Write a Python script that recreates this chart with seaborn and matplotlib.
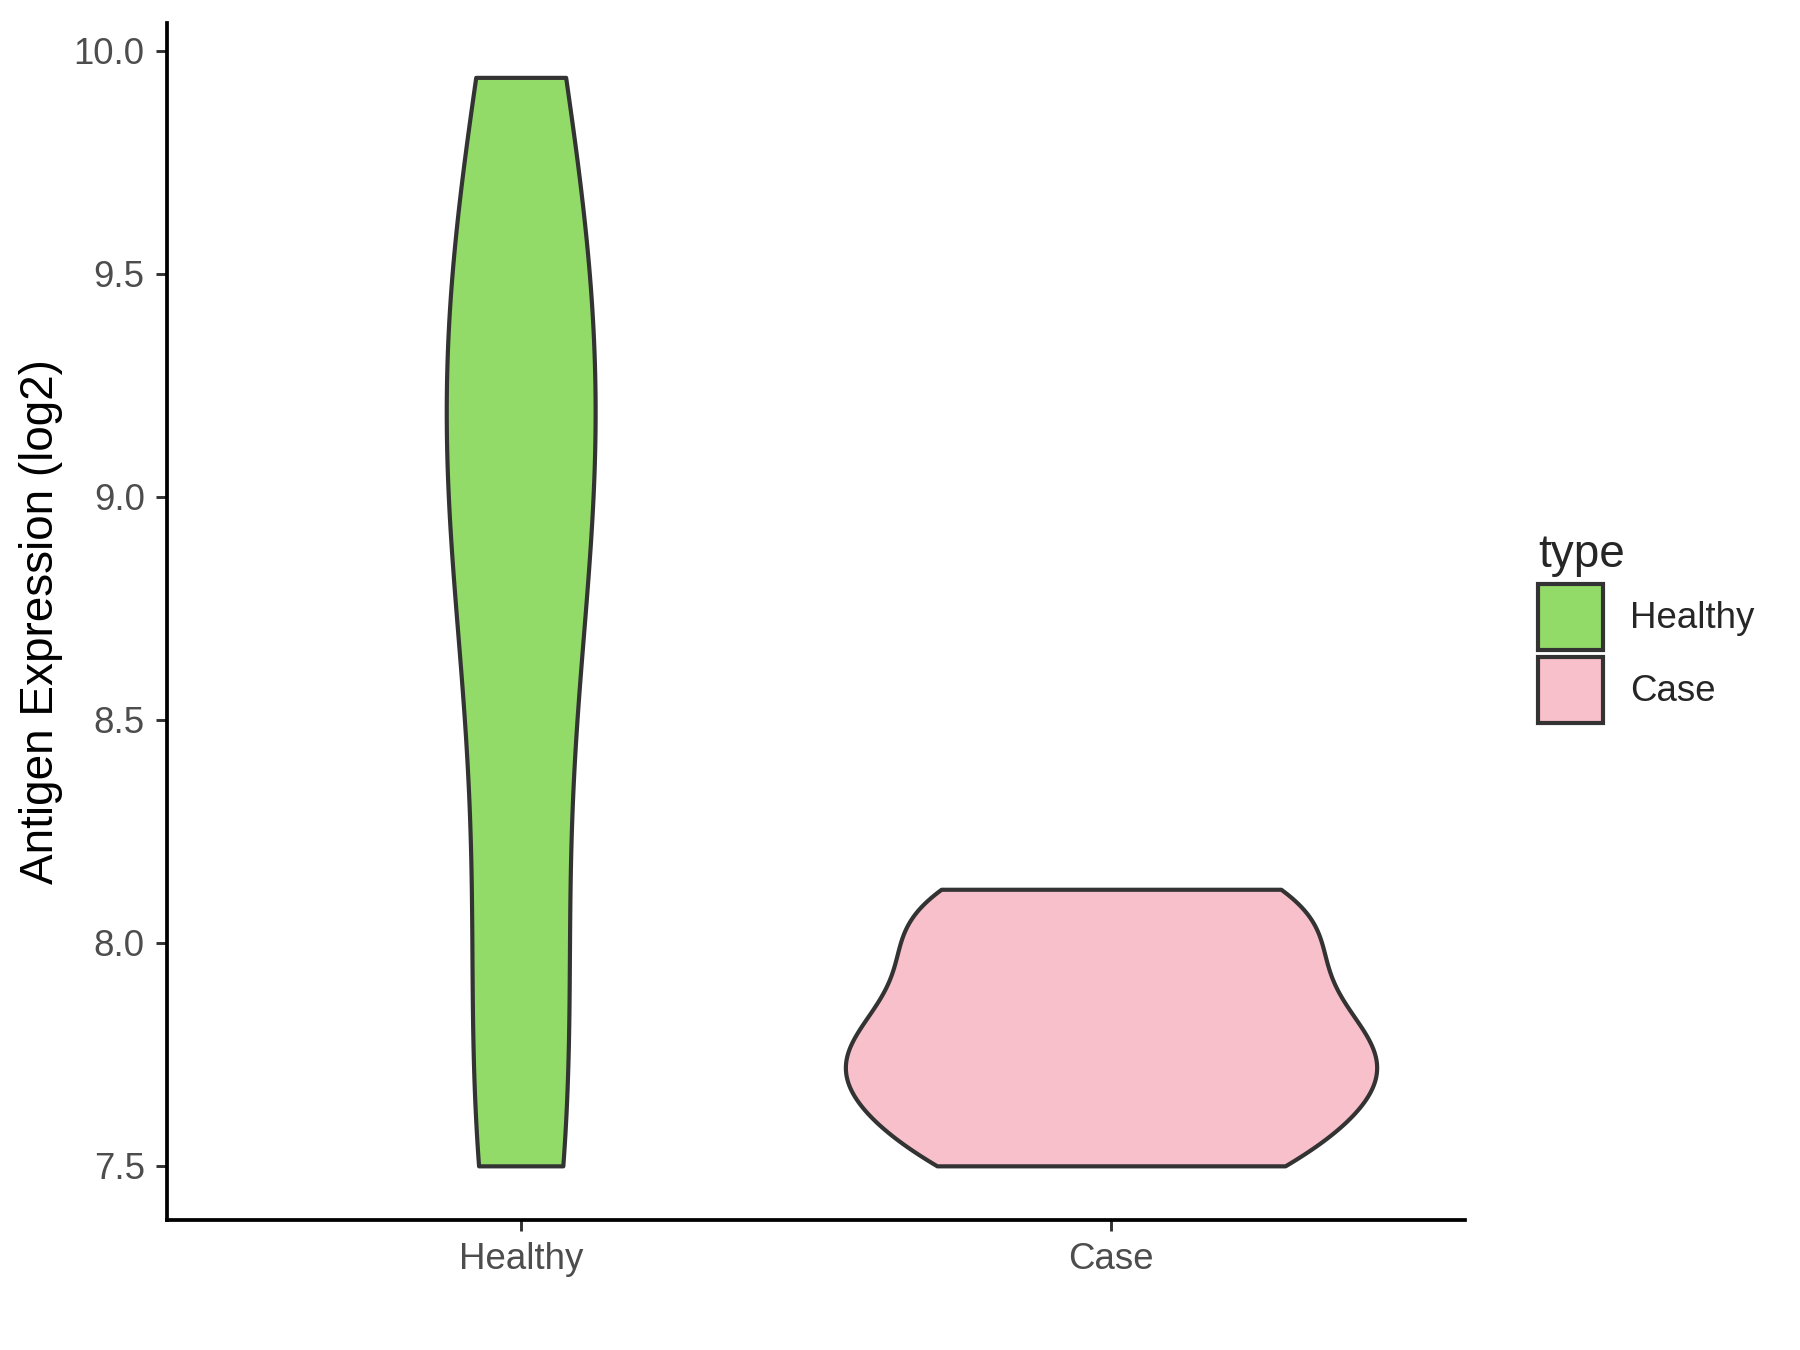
import pandas as pd
import seaborn as sns
import matplotlib.pyplot as plt
from matplotlib.patches import Patch

# values
healthy = [7.5, 7.55, 7.95, 8.5, 8.8, 9.1, 9.2, 9.35, 9.7, 9.94]
case = [7.5, 7.52, 7.64, 7.71, 7.75, 7.79, 7.91, 8.0, 8.1, 8.12]
groups = ["Healthy", "Case"]
colors = ["#93DB69", "#F8C0CB"]

df = pd.DataFrame({
    "type": ["Healthy"] * len(healthy) + ["Case"] * len(case),
    "value": healthy + case,
})

sns.set_theme(style="ticks")
plt.rcParams['font.family'] = ['Liberation Sans', 'DejaVu Sans']

fig = plt.figure(figsize=(6, 4.5), dpi=300)
ax = fig.add_axes([0.0925, 0.0961, 0.814 - 0.0925, 0.983 - 0.0961])

sns.violinplot(data=df, x="type", y="value", hue="type", order=groups, hue_order=groups,
               palette=colors, cut=0, inner=None, width=0.9, density_norm="area",
               common_norm=True, bw_adjust=0.9,
               linewidth=1.0, linecolor="#333333", saturation=1, legend=False, ax=ax)

ax.set_xlim(-0.6, 1.6)
ax.set_ylim(7.378, 10.062)
ax.set_yticks([7.5, 8.0, 8.5, 9.0, 9.5, 10.0])
ax.set_yticklabels(["7.5", "8.0", "8.5", "9.0", "9.5", "10.0"])
ax.set_xlabel("")
ax.set_ylabel("Antigen Expression (log2)", fontsize=11, color="black", labelpad=2.5)

for s in ["top", "right"]:
    ax.spines[s].set_visible(False)
for s in ["left", "bottom"]:
    ax.spines[s].set_linewidth(0.9)
    ax.spines[s].set_color("black")
ax.tick_params(axis="both", labelsize=8.8, labelcolor="#4D4D4D", color="#333333",
               length=2.75, width=0.7, pad=2.5)

handles = [Patch(facecolor=c, edgecolor="#333333", linewidth=1.0, label=g) for g, c in zip(groups, colors)]
fig.legend(handles=handles, title="type", loc="center left", bbox_to_anchor=(0.836, 0.535),
           frameon=False, fontsize=8.8, title_fontsize=11, handlelength=1.78, handleheight=2.37,
           labelspacing=0.2, handletextpad=0.74, alignment="left")

fig.savefig("out.png", dpi=300)
